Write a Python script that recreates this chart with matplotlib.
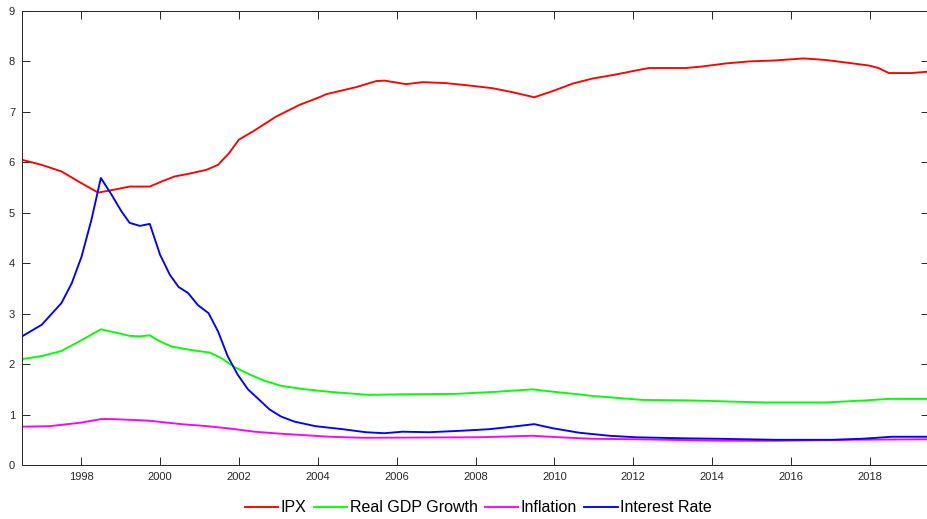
import matplotlib.pyplot as plt
import numpy as np

plt.rcParams['font.family'] = ['Liberation Sans', 'DejaVu Sans']

# IPX
ipx_t = [1996.5, 1997.0, 1997.5, 1998.0, 1998.43, 1998.85, 1999.23, 1999.74, 2000.04,
         2000.37, 2000.71, 2001.17, 2001.47, 2001.75, 2002.0, 2002.35, 2002.95, 2003.54,
         2004.04, 2004.21, 2004.97, 2005.48, 2005.69, 2006.24, 2006.66, 2007.25, 2007.76,
         2008.43, 2008.94, 2009.49, 2009.95, 2010.46, 2010.96, 2011.55, 2012.06, 2012.4,
         2013.33, 2013.75, 2014.34, 2014.93, 2015.6, 2016.32, 2016.87, 2017.38, 2017.97,
         2018.22, 2018.48, 2019.06, 2019.5]
ipx_v = [6.05, 5.95, 5.82, 5.59, 5.40, 5.46, 5.52, 5.52, 5.62,
         5.72, 5.77, 5.85, 5.95, 6.18, 6.45, 6.61, 6.91, 7.14,
         7.29, 7.35, 7.49, 7.61, 7.62, 7.55, 7.59, 7.57, 7.53,
         7.47, 7.39, 7.29, 7.41, 7.56, 7.66, 7.74, 7.82, 7.87,
         7.87, 7.90, 7.96, 8.00, 8.02, 8.06, 8.03, 7.98, 7.92,
         7.87, 7.77, 7.77, 7.80]

# Real GDP Growth
gdp_t = [1996.5, 1997.0, 1997.5, 1998.0, 1998.5, 1998.85, 1999.23, 1999.49, 1999.74,
         2000.0, 2000.29, 2000.63, 2000.96, 2001.26, 2001.55, 2001.89, 2002.23, 2002.65,
         2003.07, 2003.58, 2004.3, 2005.3, 2005.98, 2007.5, 2008.5, 2009.44, 2010.0,
         2010.63, 2010.96, 2012.23, 2013.5, 2014.34, 2015.35, 2016.87, 2017.88, 2018.47,
         2019.5]
gdp_v = [2.10, 2.16, 2.26, 2.47, 2.69, 2.63, 2.56, 2.55, 2.57,
         2.45, 2.35, 2.30, 2.26, 2.23, 2.12, 1.94, 1.81, 1.67,
         1.57, 1.51, 1.45, 1.39, 1.40, 1.41, 1.45, 1.50, 1.45,
         1.40, 1.37, 1.29, 1.28, 1.26, 1.24, 1.24, 1.28, 1.31,
         1.31]

# Inflation
inf_t = [1996.5, 1997.2, 1998.0, 1998.5, 1998.8, 1999.7, 2000.54, 2001.2, 2001.8,
         2002.4, 2003.07, 2003.9, 2004.3, 2005.14, 2008.1, 2009.44, 2010.12, 2010.96,
         2012.06, 2014.34, 2015.6, 2017.54, 2019.5]
inf_v = [0.76, 0.77, 0.84, 0.91, 0.91, 0.88, 0.81, 0.77, 0.72,
         0.66, 0.62, 0.58, 0.56, 0.54, 0.55, 0.58, 0.55, 0.52,
         0.51, 0.48, 0.48, 0.50, 0.51]

# Interest Rate
ir_t = [1996.5, 1997.0, 1997.5, 1997.76, 1998.01, 1998.26, 1998.5, 1998.77, 1999.02,
        1999.23, 1999.49, 1999.74, 2000.0, 2000.25, 2000.47, 2000.71, 2000.96, 2001.23,
        2001.47, 2001.72, 2001.97, 2002.23, 2002.52, 2002.78, 2003.07, 2003.41, 2003.94,
        2004.63, 2005.22, 2005.69, 2006.15, 2006.83, 2007.67, 2008.35, 2008.94, 2009.49,
        2009.95, 2010.63, 2011.39, 2012.06, 2013.24, 2014.17, 2015.6, 2017.04, 2017.8,
        2018.56, 2019.5]
ir_v = [2.55, 2.78, 3.21, 3.60, 4.13, 4.86, 5.69, 5.36, 5.03,
        4.80, 4.74, 4.78, 4.17, 3.77, 3.53, 3.41, 3.17, 3.01,
        2.65, 2.15, 1.79, 1.50, 1.29, 1.10, 0.96, 0.86, 0.77,
        0.71, 0.65, 0.63, 0.66, 0.65, 0.68, 0.71, 0.76, 0.81,
        0.73, 0.64, 0.58, 0.55, 0.53, 0.52, 0.50, 0.50, 0.52,
        0.56, 0.56]

fig = plt.figure(figsize=(9.28, 5.19), dpi=100)
ax = fig.add_axes([22 / 928, 54 / 519, 907 / 928, 454 / 519])

lw = 1.35
ax.plot(ipx_t, ipx_v, color=(1, 0, 0), linewidth=lw, label='IPX')
ax.plot(gdp_t, gdp_v, color=(0, 1, 0), linewidth=lw, label='Real GDP Growth')
ax.plot(inf_t, inf_v, color=(1, 0, 1), linewidth=lw, label='Inflation')
ax.plot(ir_t, ir_v, color=(0, 0, 1), linewidth=lw, label='Interest Rate')

ax.set_xlim(1996.5, 2019.5)
ax.set_ylim(0, 9)
ax.set_xticks(np.arange(1998, 2019, 2))
ax.set_yticks(np.arange(0, 10, 1))

axis_col = (0.15, 0.15, 0.15)
for s in ax.spines.values():
    s.set_color(axis_col)
    s.set_linewidth(0.7)
ax.tick_params(direction='in', length=6, width=0.7, color=axis_col,
               labelcolor=axis_col, labelsize=8, top=True, right=True, pad=5)

ax.legend(loc='upper center', bbox_to_anchor=(0.503, -0.057), ncol=4, frameon=False,
          fontsize=11.5, handlelength=2.1, handletextpad=0.15, columnspacing=0.45,
          borderaxespad=0.2)

plt.savefig('out.png', dpi=100)
plt.close()
